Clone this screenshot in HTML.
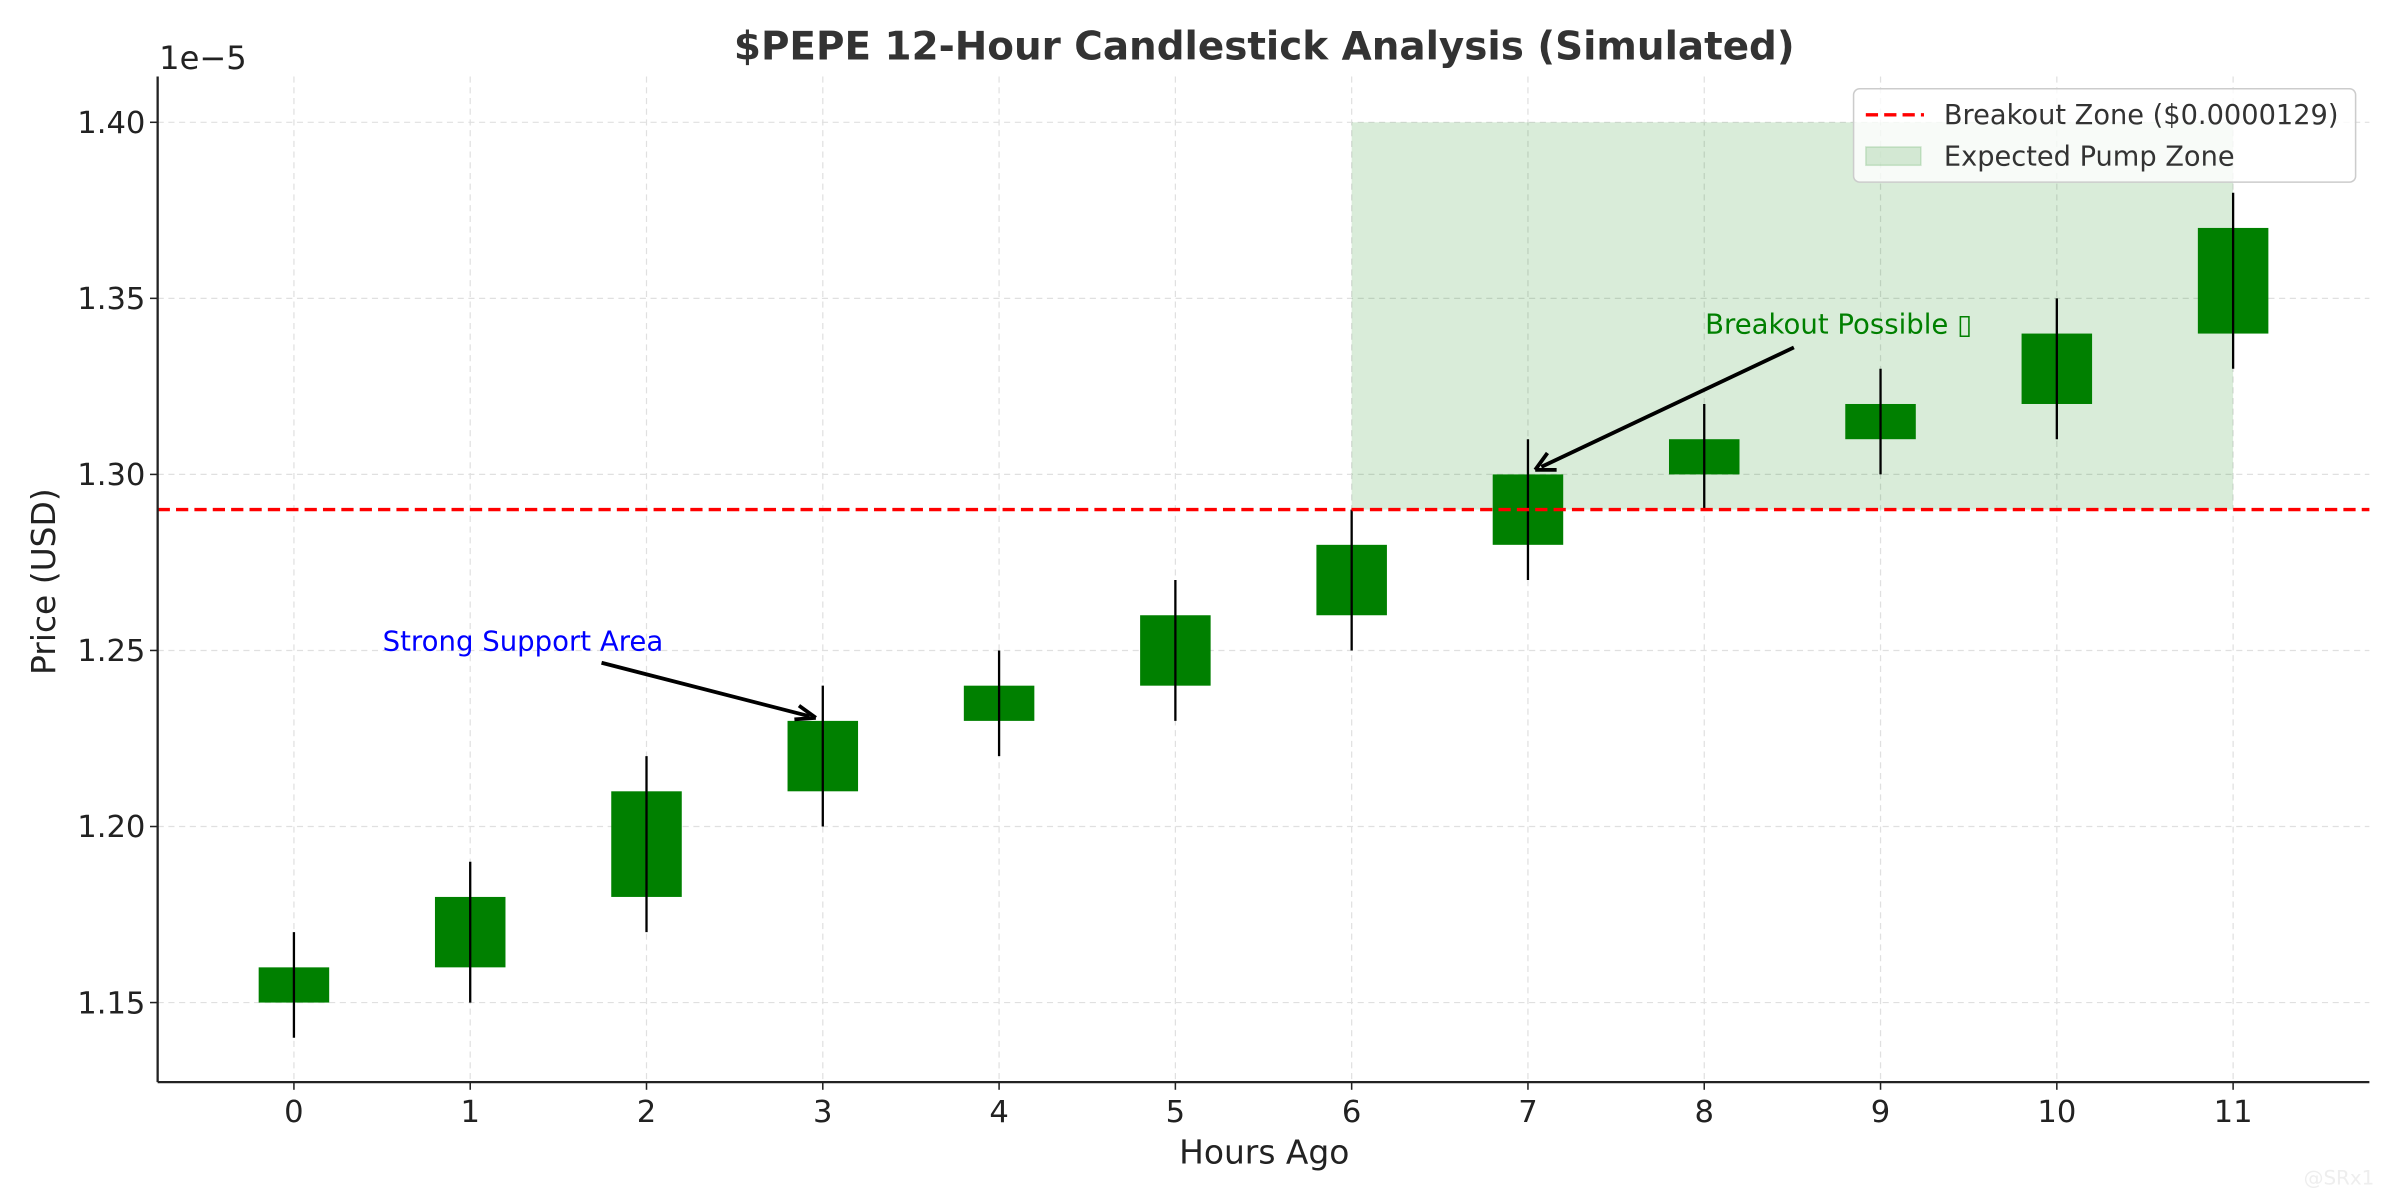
<!DOCTYPE html>
<html><head><meta charset="utf-8"><style>
html,body{margin:0;padding:0;background:#fff;}
svg{display:block;font-family:"DejaVu Sans","Liberation Sans",sans-serif;}
</style></head><body>
<svg id="chart" width="2400" height="1200" viewBox="0 0 1568 784" xmlns="http://www.w3.org/2000/svg">
<rect width="1568" height="784" fill="#fff"/>
<g id="grid"></g>
<rect id="pump" fill="#008000" fill-opacity="0.15"/>
<g id="candles"></g>
<line id="breakout" stroke="#ff0000" stroke-width="2.2" stroke-dasharray="8,4"/>
<g id="axes"></g>
<text x="826" y="39" text-anchor="middle" font-size="25.4" font-weight="bold" fill="#333">$PEPE 12-Hour Candlestick Analysis (Simulated)</text>
<text x="104" y="45" font-size="21" fill="#222">1e−5</text>
<text x="826" y="760" text-anchor="middle" font-size="21.5" fill="#222">Hours Ago</text>
<text transform="translate(36,380) rotate(-90)" text-anchor="middle" font-size="21.5" fill="#222">Price (USD)</text>
<g>
<text x="250" y="425" font-size="18" fill="#0000ff">Strong Support Area</text>
<line x1="393" y1="433" x2="529" y2="468" stroke="#000" stroke-width="2.5"/>
<path d="M533,469 L519,470 M533,469 L522,461" stroke="#000" stroke-width="2.5" fill="none"/>
</g>
<g>
<text x="1114" y="218" font-size="18" fill="#008000">Breakout Possible ▯</text>
<line x1="1172" y1="227" x2="1007" y2="305" stroke="#000" stroke-width="2.5"/>
<path d="M1003,307 L1011,296 M1003,307 L1017,307" stroke="#000" stroke-width="2.5" fill="none"/>
</g>
<g>
<rect x="1211" y="58" width="328" height="61" rx="4" fill="#fff" fill-opacity="0.8" stroke="#ccc" stroke-width="1"/>
<line x1="1219" y1="75" x2="1257" y2="75" stroke="#ff0000" stroke-width="2.2" stroke-dasharray="8,4"/>
<text x="1270" y="81" font-size="17.8" fill="#333">Breakout Zone ($0.0000129)</text>
<rect x="1219" y="96" width="36" height="12" fill="#008000" fill-opacity="0.15" stroke="#008000" stroke-opacity="0.15"/>
<text x="1270" y="108" font-size="17.8" fill="#333">Expected Pump Zone</text>
</g>
<text x="1505" y="774" font-size="13" fill="#eee">@SRx1</text>
</svg>
<script>
const hours = [0,1,2,3,4,5,6,7,8,9,10,11];
const opens = [1.15,1.16,1.18,1.21,1.23,1.24,1.26,1.28,1.30,1.31,1.32,1.34];
const closes = [1.16,1.18,1.21,1.23,1.24,1.26,1.28,1.30,1.31,1.32,1.34,1.37];
const lows = [1.14,1.15,1.17,1.20,1.22,1.23,1.25,1.27,1.29,1.30,1.31,1.33];
const highs = [1.17,1.19,1.22,1.24,1.25,1.27,1.29,1.31,1.32,1.33,1.35,1.38];
const yTicks = [1.15,1.20,1.25,1.30,1.35,1.40];
const yTickLabels = ["1.15","1.20","1.25","1.30","1.35","1.40"];
const breakoutLevel = 1.29;
const pumpZone = [6, 11, 1.29, 1.40];

const L=103,R=1548,T=50,B=707;
const xMin=-0.773,xMax=11.773,yMin=1.1274,yMax=1.4130;
const sx=v=>L+(v-xMin)/(xMax-xMin)*(R-L);
const sy=v=>B-(v-yMin)/(yMax-yMin)*(B-T);
const NS="http://www.w3.org/2000/svg";
function mk(tag,attrs,parent){const e=document.createElementNS(NS,tag);for(const k in attrs)e.setAttribute(k,attrs[k]);parent.appendChild(e);return e;}
const grid=document.getElementById('grid'),axes=document.getElementById('axes'),cg=document.getElementById('candles');
hours.forEach(h=>{
  const gl=mk('line',{x1:sx(h),x2:sx(h),y1:T,y2:B,stroke:'#e0e0e0','stroke-width':0.8,'stroke-dasharray':'4,3'},grid);
  
  
  mk('line',{x1:sx(h),x2:sx(h),y1:B,y2:B+5,stroke:'#222','stroke-width':1},axes);
  const t=mk('text',{x:sx(h),y:B+26,'text-anchor':'middle','font-size':20,fill:'#222'},axes);
  t.textContent=h;
  
  
});
yTicks.forEach((v,i)=>{
  const gl=mk('line',{x1:L,x2:R,y1:sy(v),y2:sy(v),stroke:'#e0e0e0','stroke-width':0.8,'stroke-dasharray':'4,3'},grid);
  
  
  mk('line',{x1:L-5,x2:L,y1:sy(v),y2:sy(v),stroke:'#222','stroke-width':1},axes);
  const t=mk('text',{x:L-8,y:sy(v)+7,'text-anchor':'end','font-size':20,fill:'#222'},axes);
  t.textContent=yTickLabels[i];
  
  
});
mk('line',{x1:L,x2:L,y1:T,y2:B,stroke:'#222','stroke-width':1.5},axes);
mk('line',{x1:L,x2:R,y1:B,y2:B,stroke:'#222','stroke-width':1.5},axes);
const p=document.getElementById('pump');
p.setAttribute('x',sx(pumpZone[0]));p.setAttribute('width',sx(pumpZone[1])-sx(pumpZone[0]));
p.setAttribute('y',sy(pumpZone[3]));p.setAttribute('height',sy(pumpZone[2])-sy(pumpZone[3]));
const bl=document.getElementById('breakout');
bl.setAttribute('x1',L);bl.setAttribute('x2',R);bl.setAttribute('y1',sy(breakoutLevel));bl.setAttribute('y2',sy(breakoutLevel));
hours.forEach((h,i)=>{
  const top=Math.max(opens[i],closes[i]),bot=Math.min(opens[i],closes[i]);
  const body=mk('rect',{x:sx(h-0.2),width:sx(h+0.2)-sx(h-0.2),y:sy(top),height:sy(bot)-sy(top),fill:'#008000'},cg);
  
  
  const w=mk('line',{x1:sx(h),x2:sx(h),y1:sy(highs[i]),y2:sy(lows[i]),stroke:'#000','stroke-width':1.5},cg);
  
  
});
</script>
</body></html>
